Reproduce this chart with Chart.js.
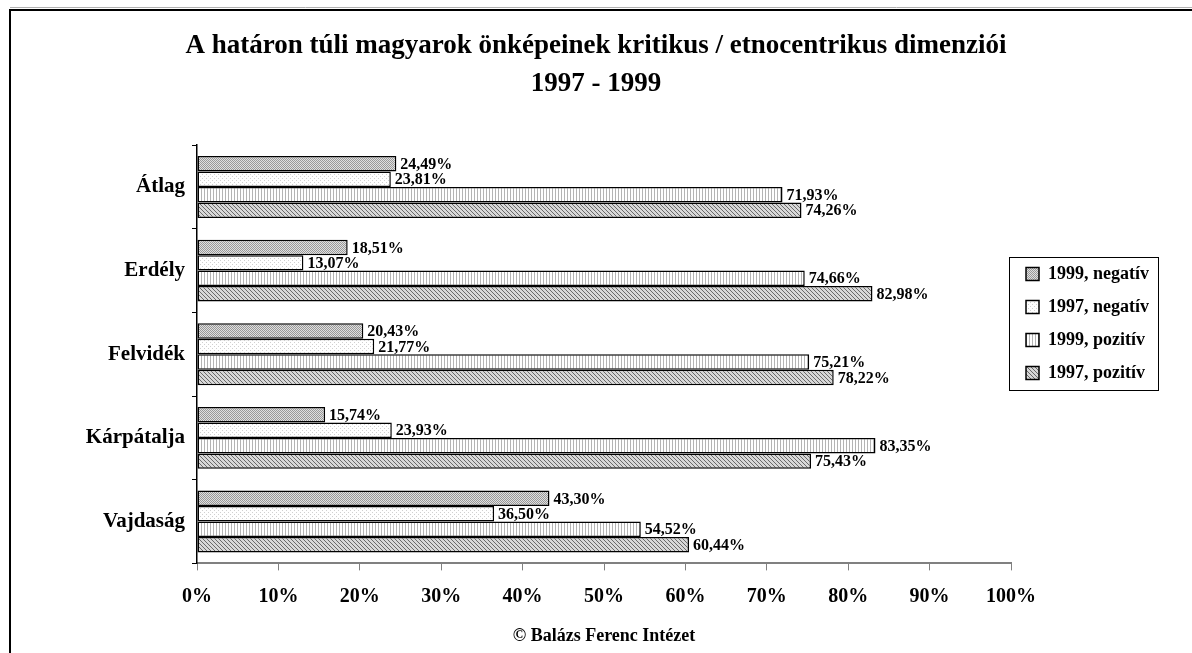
<!DOCTYPE html>
<html>
<head>
<meta charset="utf-8">
<script src="https://cdn.jsdelivr.net/npm/chart.js@4"></script>
<style>
  html, body { margin: 0; padding: 0; background: #fff; }
</style>
</head>
<body>
<canvas id="chart" width="1192" height="653"></canvas>
<script>
// Data
const regions = ['Átlag', 'Erdély', 'Felvidék', 'Kárpátalja', 'Vajdaság'];
const seriesNames = ['1999, negatív', '1997, negatív', '1999, pozitív', '1997, pozitív'];
const neg1999 = [24.49, 18.51, 20.43, 15.74, 43.30];
const neg1997 = [23.81, 13.07, 21.77, 23.93, 36.50];
const poz1999 = [71.93, 74.66, 75.21, 83.35, 54.52];
const poz1997 = [74.26, 82.98, 78.22, 75.43, 60.44];
const xTickValues = [0, 10, 20, 30, 40, 50, 60, 70, 80, 90, 100];

const FONT = "'Liberation Serif', 'Times New Roman', serif";

// little fill patterns like the old Excel chart
function makePattern(size, draw) {
    const c = document.createElement('canvas');
    c.width = size; c.height = size;
    const g = c.getContext('2d');
    g.fillStyle = '#fff';
    g.fillRect(0, 0, size, size);
    draw(g);
    return document.getElementById('chart').getContext('2d').createPattern(c, 'repeat');
}
const dotsDark = makePattern(2, g => {
    g.fillStyle = '#999';
    g.fillRect(0, 0, 1, 1);
    g.fillRect(1, 1, 1, 1);
    g.fillStyle = '#e0e0e0';
    g.fillRect(1, 0, 1, 1);
    g.fillRect(0, 1, 1, 1);
});
const dotsLight = makePattern(4, g => {
    g.fillStyle = '#d0d0d0';
    g.fillRect(0, 0, 1, 1);
    g.fillRect(2, 2, 1, 1);
});
const vLines = makePattern(3, g => {
    g.fillStyle = '#b4b4b4';
    g.fillRect(0, 0, 1, 3);
});
const hatch = makePattern(4, g => {
    g.fillStyle = '#d8d8d8';
    g.fillRect(0, 0, 4, 4);
    g.fillStyle = '#6a6a6a';
    for (let i = 0; i < 4; i++) g.fillRect(i, i, 1, 1);
});

const seriesData = [neg1999, neg1997, poz1999, poz1997];
const fills = [dotsDark, dotsLight, vLines, hatch];

// frame of the original figure
const framePlugin = {
    id: 'frame',
    beforeDraw(chart) {
        const ctx = chart.ctx;
        ctx.save();
        ctx.strokeStyle = '#b0b0b0';
        ctx.lineWidth = 1;
        ctx.beginPath();
        ctx.moveTo(10, 7.5); ctx.lineTo(chart.width, 7.5);
        ctx.stroke();
        ctx.strokeStyle = '#000';
        ctx.lineWidth = 2;
        ctx.beginPath();
        ctx.moveTo(10, chart.height); ctx.lineTo(10, 10); ctx.lineTo(chart.width, 10);
        ctx.stroke();
        ctx.restore();
    }
};

// box round the legend
const legendBoxPlugin = {
    id: 'legendBox',
    afterDraw(chart) {
        const lg = chart.legend;
        const boxes = lg.legendHitBoxes;
        if (!boxes || !boxes.length) return;
        let t = Infinity, b = -Infinity;
        boxes.forEach(h => {
            t = Math.min(t, h.top);
            b = Math.max(b, h.top + h.height);
        });
        const ctx = chart.ctx;
        ctx.save();
        ctx.strokeStyle = '#000';
        ctx.lineWidth = 1;
        ctx.strokeRect(Math.round(lg.left) - 1.5, Math.round(t - 8) + 0.5, Math.round(lg.right - lg.left + 1), Math.round(b - t + 16));
        ctx.restore();
    }
};

// value labels at the end of each bar
const valueLabels = {
    id: 'valueLabels',
    afterDatasetsDraw(chart) {
        const ctx = chart.ctx;
        ctx.save();
        ctx.font = 'bold 16px ' + FONT;
        ctx.fillStyle = '#000';
        ctx.textAlign = 'left';
        ctx.textBaseline = 'middle';
        chart.data.datasets.forEach((ds, i) => {
            chart.getDatasetMeta(i).data.forEach((bar, j) => {
                const txt = ds.data[j].toFixed(2).replace('.', ',') + '%';
                ctx.fillText(txt, bar.x + 4, bar.y + 1);
            });
        });
        ctx.restore();
    }
};

new Chart(document.getElementById('chart'), {
    type: 'bar',
    data: {
        labels: regions,
        datasets: seriesNames.map((name, i) => ({
            label: name,
            data: seriesData[i],
            backgroundColor: fills[i],
            borderColor: '#000',
            borderWidth: 1.5,
            borderSkipped: false,
            categoryPercentage: 0.74,
            barPercentage: 1
        }))
    },
    options: {
        indexAxis: 'y',
        responsive: false,
        animation: false,
        layout: { padding: { left: 33, right: 33, top: 0, bottom: 6 } },
        scales: {
            x: {
                min: 0,
                max: 100,
                afterBuildTicks(scale) {
                    scale.ticks = xTickValues.map(v => ({ value: v }));
                },
                grid: { display: true, drawOnChartArea: false, tickLength: 7, color: '#808080' },
                border: { display: true, color: '#808080', width: 2 },
                ticks: {
                    padding: 14,
                    color: '#000',
                    font: { family: FONT, size: 20, weight: 'bold' },
                    callback: v => v + '%'
                },
                title: {
                    display: true,
                    text: '© Balázs Ferenc Intézet',
                    color: '#000',
                    font: { family: FONT, size: 18, weight: 'bold' },
                    padding: { top: 3, bottom: 0 }
                }
            },
            y: {
                afterFit(scale) { scale.width = 164; },
                grid: { display: true, drawOnChartArea: false, tickLength: 5, color: '#000' },
                border: { display: true, color: '#000', width: 1.5 },
                ticks: {
                    padding: 7,
                    color: '#000',
                    font: { family: FONT, size: 21, weight: 'bold' }
                }
            }
        },
        plugins: {
            title: {
                display: true,
                text: ['A határon túli magyarok önképeinek kritikus / etnocentrikus dimenziói', '1997 - 1999'],
                color: '#000',
                font: { family: FONT, size: 27, weight: 'bold', lineHeight: 1.41 },
                padding: { top: 27, bottom: 42 }
            },
            legend: {
                position: 'right',
                align: 'center',
                labels: {
                    boxWidth: 13,
                    boxHeight: 13,
                    padding: 15,
                    color: '#000',
                    font: { family: FONT, size: 18, weight: 'bold' }
                }
            },
            tooltip: { enabled: false }
        }
    },
    plugins: [framePlugin, legendBoxPlugin, valueLabels]
});
</script>
</body>
</html>
